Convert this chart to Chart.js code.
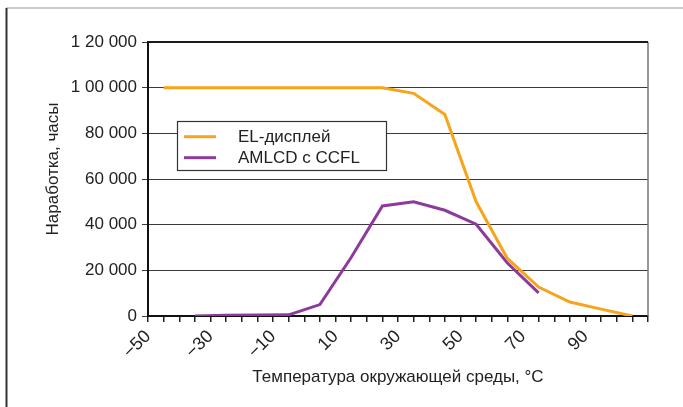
<!DOCTYPE html>
<html><head><meta charset="utf-8">
<script src="https://cdn.jsdelivr.net/npm/chart.js@4"></script>
<style>html,body{margin:0;padding:0;background:#fff}#wrap{width:683px;height:407px;position:relative}</style>
</head><body><div id="wrap"><canvas id="c" width="683" height="407"></canvas></div>
<script>
const elTemps = [-45,-35,-25,-15,-5,5,15,25,35,45,55,65,75,85,95,105];
const elHours = [100000,100000,100000,100000,100000,100000,100000,100000,97500,88300,50000,25200,12700,6100,3000,0];
const amTemps = [-35,-25,-15,-5,5,15,25,35,45,55,65,75];
const amHours = [0,300,400,500,5000,25600,48200,50000,46300,40200,23200,10100];
const seriesNames = ['EL-дисплей','AMLCD с CCFL'];
const seriesColors = ['#f7a41c','#8c3b9c'];
const xTickValues = [-50,-30,-10,10,30,50,70,90];
const xTickLabels = ['\u221250','\u221230','\u221210','10','30','50','70','90'];
const yTickLabels = ['0','20 000','40 000','60 000','80 000','1 00 000','1 20 000'];
const xTitle = 'Температура окружающей среды, °C';
const yTitle = 'Наработка, часы';

const FONT = '"Liberation Sans", Arial, sans-serif';

const decor = {
  id:'decor',
  beforeDraw(chart){
    const ctx = chart.ctx;
    ctx.save();
    ctx.fillStyle = '#fff';
    ctx.fillRect(0,0,chart.width,chart.height);
    ctx.strokeStyle = '#bbbbbb'; ctx.lineWidth = 1.5;
    ctx.beginPath(); ctx.moveTo(6,8); ctx.lineTo(chart.width,8); ctx.stroke();
    ctx.strokeStyle = '#333'; ctx.lineWidth = 2;
    ctx.beginPath(); ctx.moveTo(6.5,8); ctx.lineTo(6.5,chart.height); ctx.stroke();
    ctx.restore();
  },
  afterDatasetsDraw(chart){
    const ctx = chart.ctx, a = chart.chartArea;
    ctx.save();
    ctx.strokeStyle = '#777'; ctx.lineWidth = 1.5;
    ctx.beginPath(); ctx.moveTo(a.right, a.top); ctx.lineTo(a.right, a.bottom); ctx.stroke();
    ctx.strokeStyle = '#1a1a1a'; ctx.lineWidth = 2;
    ctx.beginPath(); ctx.moveTo(a.left, a.top); ctx.lineTo(a.right, a.top); ctx.stroke();
    // y title
    ctx.fillStyle = '#222';
    ctx.font = '17px ' + FONT;
    ctx.textAlign = 'center'; ctx.textBaseline = 'middle';
    ctx.save(); ctx.translate(53, 169); ctx.rotate(-Math.PI/2); ctx.fillText(yTitle, 0, 0); ctx.restore();
    // x title
    ctx.fillText(xTitle, 398, 377);
    // legend
    const bx = 177, by = 121, bw = 209, bh = 49;
    ctx.fillStyle = '#fff'; ctx.fillRect(bx, by, bw, bh);
    ctx.strokeStyle = '#333'; ctx.lineWidth = 1.2;
    ctx.strokeRect(bx+0.5, by+0.5, bw, bh);
    chart.data.datasets.forEach((ds, i) => {
      const y = 136.7 + i*21;
      ctx.strokeStyle = ds.borderColor; ctx.lineWidth = 3;
      ctx.beginPath(); ctx.moveTo(184, y); ctx.lineTo(216, y); ctx.stroke();
      ctx.fillStyle = '#222'; ctx.textAlign = 'left'; ctx.textBaseline = 'middle';
      ctx.fillText(ds.label, 238, y+1);
    });
    ctx.restore();
  }
};

new Chart(document.getElementById('c'), {
  type:'line',
  data:{
    datasets:[
      {label:seriesNames[0], data: elTemps.map((t,i)=>({x:t,y:elHours[i]})), borderColor:seriesColors[0], borderWidth:3, pointRadius:0, tension:0, fill:false},
      {label:seriesNames[1], data: amTemps.map((t,i)=>({x:t,y:amHours[i]})), borderColor:seriesColors[1], borderWidth:3, pointRadius:0, tension:0, fill:false}
    ]
  },
  options:{
    responsive:false, animation:false, devicePixelRatio:1,
    layout:{padding:{left:44,right:35,top:42,bottom:20}},
    plugins:{legend:{display:false}, tooltip:{enabled:false}, title:{display:false}},
    scales:{
      x:{type:'linear', min:-50, max:110,
        afterFit(s){ s.height = 71; },
        ticks:{stepSize:5, autoSkip:false, maxRotation:45, minRotation:45, color:'#222', padding:4,
          font:{family:FONT, size:18},
          callback(v){ const i = xTickValues.indexOf(v); return i>=0 ? xTickLabels[i] : ''; }},
        grid:{drawOnChartArea:false, drawTicks:true, tickLength:6, color:'#222', lineWidth:1.5},
        border:{display:true, color:'#111', width:2}
      },
      y:{min:0, max:120000,
        afterFit(s){ s.width = 104; },
        ticks:{stepSize:20000, color:'#222', padding:5, font:{family:FONT, size:17},
          callback(v){ return yTickLabels[Math.round(v/20000)]; }},
        grid:{color:'#3a3a3a', lineWidth:1, tickLength:6, drawTicks:true},
        border:{display:true, color:'#111', width:2}
      }
    }
  },
  plugins:[decor]
});
</script>
</body></html>
